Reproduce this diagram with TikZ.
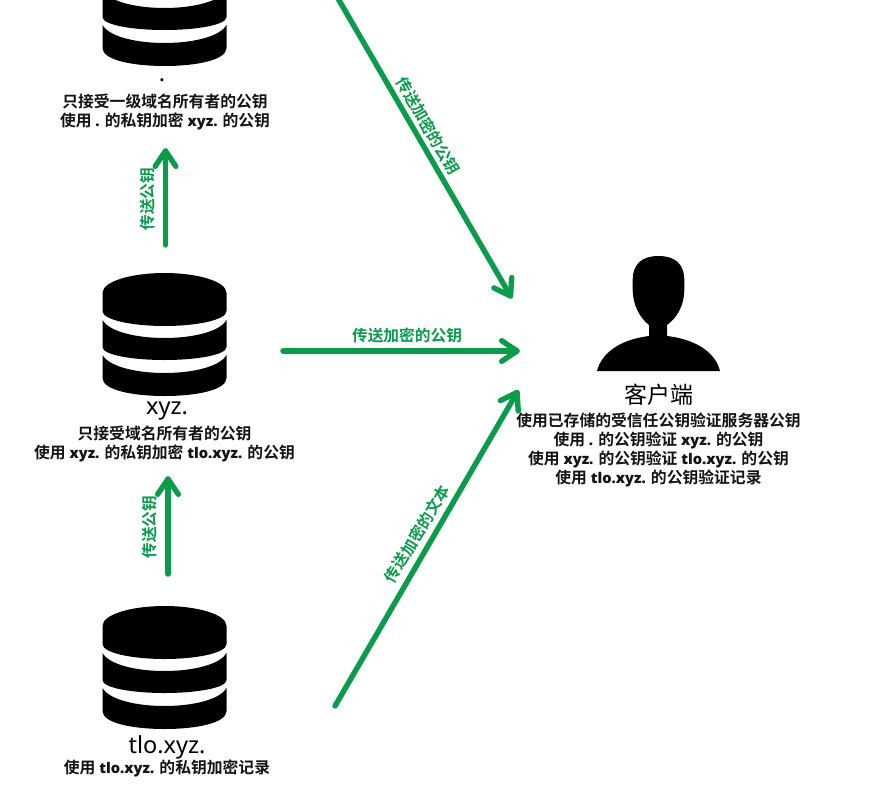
\documentclass[tikz,border=0pt]{standalone}
\usepackage{fontspec}
\setmainfont{Noto Sans}
\newfontfamily\latinbold[Scale=0.93]{Open Sans Bold}
\newfontfamily\cjkfam[BoldFont=* Bold]{Noto Sans CJK SC}
\newcommand{\zh}[1]{{\cjkfam #1}}
\usetikzlibrary{calc}
\definecolor{flowgreen}{HTML}{0A9B4B}
\tikzset{
  small/.style={font=\fontsize{15.8}{19}\selectfont\bfseries\latinbold, align=center, inner sep=0pt, text=black!92},
  big/.style={font=\fontsize{23.5}{26}\selectfont, inner sep=0pt, text=black},
  glabel/.style={font=\fontsize{15.7}{18}\selectfont\bfseries, text=flowgreen, inner sep=0pt},
  flow/.style={draw=flowgreen, line width=5.4pt, line cap=round, line join=round},
  dbstack/.pic={
    \fill[black] (-62,20) .. controls (-62,8) and (-32,0) .. (0,0) .. controls (32,0) and (62,8) .. (62,20)
      -- (62,38) .. controls (62,47) and (32,53) .. (0,53) .. controls (-32,53) and (-62,47) .. (-62,38) -- cycle;
    \fill[black] (-62,47) .. controls (-56,58) and (-30,65) .. (0,65) .. controls (30,65) and (56,58) .. (62,47)
      -- (62,74) .. controls (62,82) and (32,87) .. (0,87) .. controls (-32,87) and (-62,82) .. (-62,74) -- cycle;
    \fill[black] (-62,82) .. controls (-56,93) and (-30,100) .. (0,100) .. controls (30,100) and (56,93) .. (62,82)
      -- (62,105) .. controls (62,117) and (32,123) .. (0,123) .. controls (-32,123) and (-62,117) .. (-62,105) -- cycle;
  }
}
\newcommand{\flowarrow}[2]{%
  \draw[flow] (#1) -- (#2);
  \draw[flow] ($(#2)!18.5pt!34:(#1)$) -- (#2) -- ($(#2)!18.5pt!-34:(#1)$);
}
\begin{document}
\begin{tikzpicture}[x=1pt,y=-1pt]
\useasboundingbox (0,0) rectangle (870,787);
\clip (0,0) rectangle (870,787);
\fill[white] (0,0) rectangle (870,787);

% servers
\pic at (164.5,-57) {dbstack};
\pic at (164.5,273) {dbstack};
\pic at (164.5,606) {dbstack};

\node[big] (rootname) at (162,80) {.};
\node[small] (roottext) at (165,112.5) {\zh{只接受一级域名所有者的公钥}\\\zh{使用} . \zh{的私钥加密} xyz. \zh{的公钥}};
\node[big] (xyzname) at (167,411) {xyz.};
\node[small] (xyztext) at (164.5,444) {\zh{只接受域名所有者的公钥}\\\zh{使用} xyz. \zh{的私钥加密} tlo.xyz. \zh{的公钥}};
\node[big] (tloname) at (167,747) {tlo.xyz.};
\node[small] (tlotext) at (167,768) {\zh{使用} tlo.xyz. \zh{的私钥加密记录}};

% client
\fill[black] (649,325) .. controls (640,318) and (632.7,305) .. (632.7,290)
  -- (632.7,280) .. controls (632.7,264) and (642,256) .. (658.5,256)
  .. controls (675,256) and (684.3,264) .. (684.3,280) -- (684.3,290)
  .. controls (684.3,305) and (677,318) .. (667,325) -- (667,336)
  .. controls (700,340) and (716,355) .. (720,371) -- (597,371)
  .. controls (601,355) and (617,340) .. (649,336) -- cycle;
\node[big,font=\fontsize{23}{26}\selectfont\cjkfam] (clientname) at (659,395) {客户端};
\node[small] (clienttext) at (658.5,449.5) {\zh{使用已存储的受信任公钥验证服务器公钥}\\\zh{使用} . \zh{的公钥验证} xyz. \zh{的公钥}\\\zh{使用} xyz. \zh{的公钥验证} tlo.xyz. \zh{的公钥}\\\zh{使用} tlo.xyz. \zh{的公钥验证记录}};

% connector ends
\coordinate (a1s) at (165.5,245); \coordinate (a1e) at (165.5,151);
\coordinate (a2s) at (168,574);   \coordinate (a2e) at (168,479);
\coordinate (a3s) at (283,351);   \coordinate (a3e) at (517,351);
\coordinate (a4s) at (336,-5);    \coordinate (a4e) at (510.5,296);
\coordinate (a5s) at (335,706);   \coordinate (a5e) at (517,392.5);

\flowarrow{a1s}{a1e}
\flowarrow{a2s}{a2e}
\flowarrow{a3s}{a3e}
\flowarrow{a4s}{a4e}
\flowarrow{a5s}{a5e}

\node[glabel,rotate=90] (l1) at (147.5,199) {\zh{传送公钥}};
\node[glabel,rotate=90] (l2) at (150,527) {\zh{传送公钥}};
\node[glabel] (l3) at (407,335) {\zh{传送加密的公钥}};
\node[glabel,rotate=-60] (l4) at (428,126) {\zh{传送加密的公钥}};
\node[glabel,rotate=59] (l5) at (417,534) {\zh{传送加密的文本}};
\end{tikzpicture}
\end{document}
